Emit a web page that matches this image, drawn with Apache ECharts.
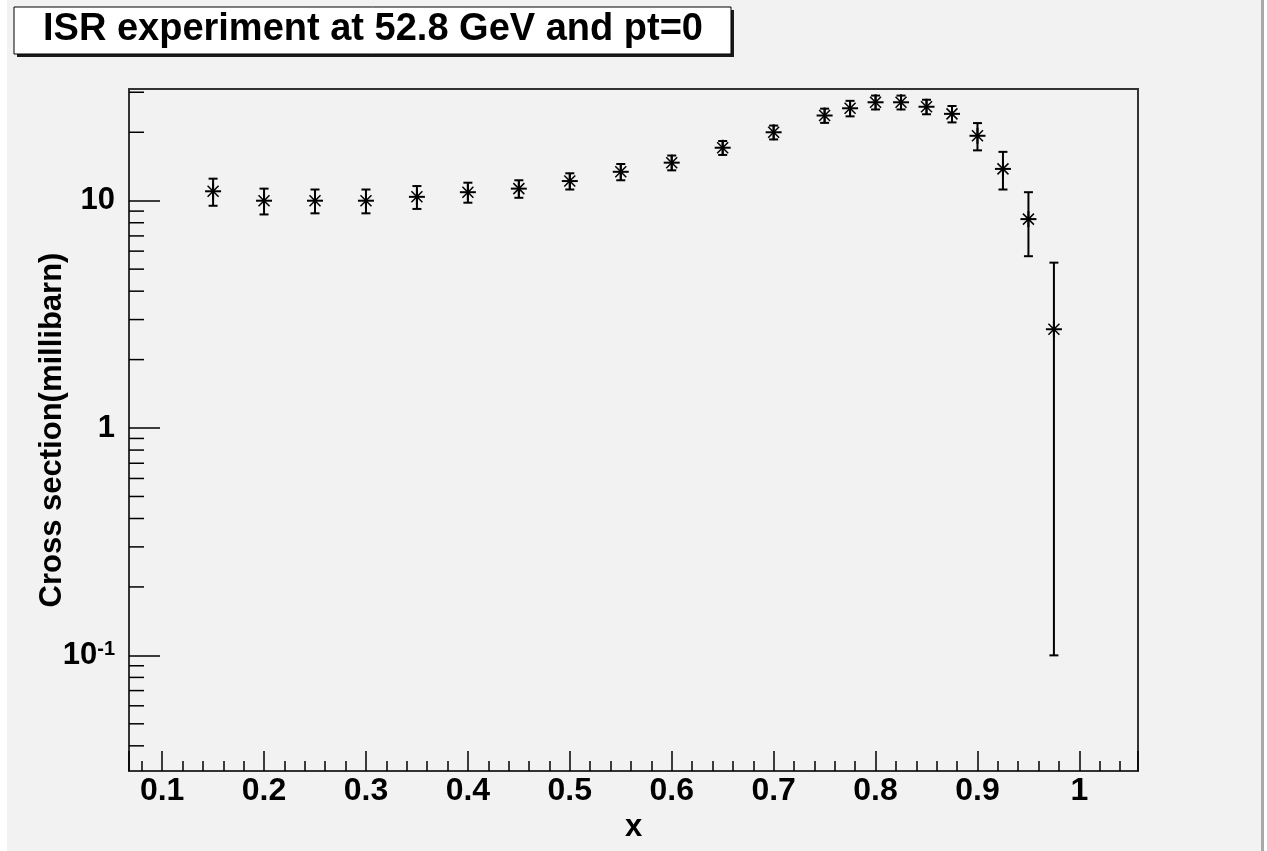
<!DOCTYPE html>
<html>
<head>
<meta charset="utf-8">
<title>ISR experiment</title>
<script src="https://cdn.jsdelivr.net/npm/echarts@6/dist/echarts.min.js"></script>
<style>
  html, body { margin: 0; padding: 0; background: #fff; }
  #chart {
    position: absolute; left: 7px; top: 0;
    width: 1254px; height: 851px;
    background: #f2f2f2;
    border-right: 3px solid #a9a9a9;
  }
</style>
</head>
<body>
<div id="chart"></div>
<script>
// data points (x, cross section in millibarn, error)
var xValues = [0.15, 0.2, 0.25, 0.3, 0.35, 0.4, 0.45, 0.5, 0.55, 0.6, 0.65, 0.7,
  0.75, 0.775, 0.8, 0.825, 0.85, 0.875, 0.9, 0.925, 0.95, 0.975];
var sigma = [11.0, 10.0, 10.0, 10.0, 10.4, 10.9, 11.3, 12.2, 13.4, 14.7, 17.1, 20.0,
  23.7, 25.5, 27.1, 27.1, 25.9, 24.1, 19.3, 13.8, 8.3, 2.72];
var sigmaErr = [1.5, 1.3, 1.2, 1.2, 1.2, 1.1, 1.0, 1.0, 1.1, 1.1, 1.2, 1.4,
  1.7, 2.0, 1.9, 1.9, 1.9, 2.0, 2.65, 2.6, 2.6, 2.62];

// axes
var X_MIN = 0.0675, X_MAX = 1.0575;
var Y_MIN = 0.031, Y_MAX = 31;
var xTickValues = [0.1, 0.2, 0.3, 0.4, 0.5, 0.6, 0.7, 0.8, 0.9, 1];
var xTickLabels = ['0.1', '0.2', '0.3', '0.4', '0.5', '0.6', '0.7', '0.8', '0.9', '1'];
var yTickExps = [-1, 0, 1];
var yTickLabels = ['10^-1', '1', '10'];
var yMinorTicks = [0.04, 0.05, 0.06, 0.07, 0.08, 0.09,
  0.2, 0.3, 0.4, 0.5, 0.6, 0.7, 0.8, 0.9,
  2, 3, 4, 5, 6, 7, 8, 9, 20, 30];

var FONT = '"Liberation Sans", Arial, Helvetica, sans-serif';

var chart = echarts.init(document.getElementById('chart'), null, { renderer: 'canvas' });

var points = xValues.map(function (x, i) { return [x, sigma[i], sigmaErr[i]]; });

function renderPoint(params, api) {
  var x = api.value(0), y = api.value(1), e = api.value(2);
  var c = api.coord([x, y]);
  var t = api.coord([x, y + e]);
  var b = api.coord([x, y - e]);
  var st = { stroke: '#000', lineWidth: 2 };
  var st2 = { stroke: '#000', lineWidth: 1.5 };
  var cap = 4.5, r = 8, d = 5.5;
  return {
    type: 'group',
    children: [
      { type: 'line', shape: { x1: t[0], y1: t[1], x2: b[0], y2: b[1] }, style: st },
      { type: 'line', shape: { x1: t[0] - cap, y1: t[1], x2: t[0] + cap, y2: t[1] }, style: st },
      { type: 'line', shape: { x1: b[0] - cap, y1: b[1], x2: b[0] + cap, y2: b[1] }, style: st },
      { type: 'line', shape: { x1: c[0] - r, y1: c[1], x2: c[0] + r, y2: c[1] }, style: st },
      { type: 'line', shape: { x1: c[0], y1: c[1] - r, x2: c[0], y2: c[1] + r }, style: st },
      { type: 'line', shape: { x1: c[0] - d, y1: c[1] - d, x2: c[0] + d, y2: c[1] + d }, style: st2 },
      { type: 'line', shape: { x1: c[0] - d, y1: c[1] + d, x2: c[0] + d, y2: c[1] - d }, style: st2 },
      { type: 'circle', shape: { cx: c[0], cy: c[1], r: 2 }, style: { fill: '#000' } }
    ]
  };
}

// minor ticks of the log axis (2..9 per decade)
function renderMinorY(params, api) {
  var p = api.coord([api.value(0), api.value(1)]);
  return {
    type: 'line',
    shape: { x1: p[0], y1: p[1], x2: p[0] + 15, y2: p[1] },
    style: { stroke: '#000', lineWidth: 1.5 }
  };
}

var options = {
  backgroundColor: '#f2f2f2',
  animation: false,
  title: {
    text: 'ISR experiment at 52.8 GeV and pt=0',
    left: 36,
    top: 11,
    padding: 0,
    textStyle: { fontFamily: FONT, fontSize: 38, fontWeight: 'bold', color: '#000', lineHeight: 38 }
  },
  graphic: [
    { type: 'rect', shape: { x: 10, y: 10, width: 717, height: 47 }, style: { fill: '#1a1a1a' }, silent: true, z: 0 },
    { type: 'rect', shape: { x: 7, y: 7, width: 717, height: 47 }, style: { fill: '#fff', stroke: '#000', lineWidth: 1 }, silent: true, z: 1 }
  ],
  grid: {
    left: 122,
    top: 89,
    width: 1009,
    height: 682,
    show: true,
    borderColor: '#333',
    borderWidth: 2,
    backgroundColor: 'transparent',
    containLabel: false
  },
  xAxis: {
    type: 'value',
    min: X_MIN,
    max: X_MAX,
    splitNumber: 10,
    name: 'x',
    nameLocation: 'middle',
    nameGap: 41,
    nameMoveOverlap: false,
    nameTextStyle: { fontFamily: FONT, fontSize: 31, fontWeight: 'bold', color: '#000' },
    axisLine: { show: true, lineStyle: { color: '#333', width: 2 } },
    axisTick: { show: true, inside: true, length: 20, lineStyle: { color: '#000', width: 1.5 } },
    minorTick: { show: true, splitNumber: 5, length: 10, lineStyle: { color: '#000', width: 1.5 } },
    splitLine: { show: false },
    axisLabel: {
      margin: 4,
      fontFamily: FONT,
      fontSize: 32,
      fontWeight: 'bold',
      color: '#000',
      showMinLabel: false,
      showMaxLabel: false,
      formatter: function (v) {
        for (var i = 0; i < xTickValues.length; i++) {
          if (Math.abs(v - xTickValues[i]) < 1e-6) return xTickLabels[i];
        }
        return '';
      }
    }
  },
  yAxis: {
    type: 'log',
    logBase: 10,
    min: Y_MIN,
    max: Y_MAX,
    name: 'Cross section(millibarn)',
    nameLocation: 'middle',
    nameRotate: 90,
    nameGap: 61,
    nameMoveOverlap: false,
    nameTextStyle: { fontFamily: FONT, fontSize: 31, fontWeight: 'bold', color: '#000' },
    axisLine: { show: true, lineStyle: { color: '#333', width: 2 } },
    axisTick: { show: true, inside: true, length: 31, lineStyle: { color: '#000', width: 1.5 } },
    minorTick: { show: false },
    splitLine: { show: false },
    axisLabel: {
      margin: 14,
      showMinLabel: false,
      showMaxLabel: false,
      formatter: function (v) {
        var e = Math.log10(v);
        for (var i = 0; i < yTickExps.length; i++) {
          if (Math.abs(e - yTickExps[i]) < 1e-6) {
            var parts = yTickLabels[i].split('^');
            return parts.length > 1 ? '{b|' + parts[0] + '}{s|' + parts[1] + '}' : '{b|' + parts[0] + '}';
          }
        }
        return '';
      },
      rich: {
        b: { fontFamily: FONT, fontSize: 31, fontWeight: 'bold', color: '#000', lineHeight: 31 },
        s: { fontFamily: FONT, fontSize: 20, fontWeight: 'bold', color: '#000', verticalAlign: 'top', lineHeight: 31 }
      }
    }
  },
  series: [
    {
      name: 'minorY',
      type: 'custom',
      silent: true,
      clip: false,
      renderItem: renderMinorY,
      data: yMinorTicks.map(function (v) { return [X_MIN, v]; }),
      z: 3
    },
    {
      name: 'ISR',
      type: 'custom',
      silent: true,
      renderItem: renderPoint,
      data: points,
      encode: { x: 0, y: 1 },
      z: 5
    }
  ]
};
chart.setOption(options);
</script>
</body>
</html>
